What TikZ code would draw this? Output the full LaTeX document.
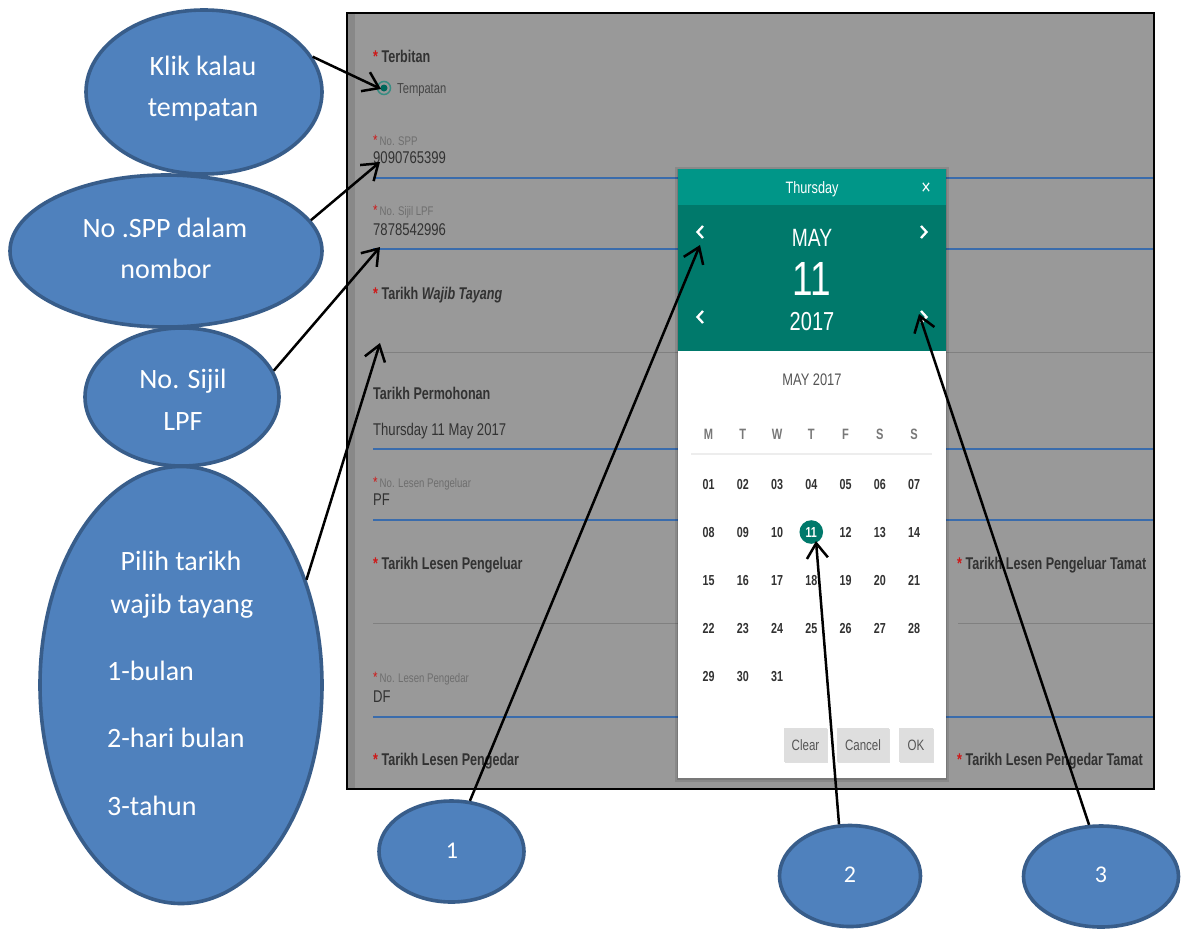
\documentclass[tikz,border=0pt]{standalone}
\usepackage{fontspec}
\setmainfont{Carlito}
\newfontfamily\ff[FakeStretch=0.77]{Liberation Sans}
\newfontfamily\ffb[FakeStretch=0.74,ItalicFont={Liberation Sans Bold Italic}]{Liberation Sans Bold}
\usetikzlibrary{shapes.geometric,arrows.meta,shadows}
\definecolor{bg}{RGB}{153,153,153}
\definecolor{strip}{RGB}{136,136,136}
\definecolor{txt}{RGB}{50,50,50}
\definecolor{lbl}{RGB}{110,110,110}
\definecolor{req}{RGB}{205,25,25}
\definecolor{fline}{RGB}{58,108,172}
\definecolor{gline}{RGB}{128,128,128}
\definecolor{tealL}{RGB}{0,150,136}
\definecolor{tealD}{RGB}{0,121,107}
\definecolor{radring}{RGB}{55,140,130}
\definecolor{blueF}{RGB}{79,129,189}
\definecolor{blueS}{RGB}{56,93,138}
\definecolor{btn}{RGB}{222,222,222}
\definecolor{wk}{RGB}{120,120,120}
\definecolor{mo}{RGB}{85,85,85}
\newcommand\fsz[1]{\fontsize{#1}{#1}\selectfont}
\newcommand\reqa{{\fsz{17}\textcolor{req}{*}}}
\newcommand\reqb{{\fsz{15}\textcolor{req}{*}}}
\begin{document}
\begin{tikzpicture}[x=1pt,y=-1pt,
  bubble/.style={ellipse, fill=blueF, draw=blueS, line width=3.6pt, inner sep=0pt},
  btxt/.style={text=white, font={\fsz{28}}, anchor=base, inner sep=0pt},
  btxtl/.style={text=white, font={\fsz{28}}, anchor=base west, inner sep=0pt},
  ntxt/.style={text=white, font={\fsz{24}}, anchor=base, inner sep=0pt},
  flbl/.style={anchor=base west, inner sep=0pt, text=txt, font={\ffb\fsz{17}}},
  fval/.style={anchor=base west, inner sep=0pt, text=txt, font={\ff\fsz{17}}},
  fsmall/.style={anchor=base west, inner sep=0pt, text=lbl, font={\ff\fsz{12.5}}},
  calt/.style={anchor=base, inner sep=0pt},
  wday/.style={anchor=base, inner sep=0pt, text=wk, font={\ffb\fsz{15}}},
  dday/.style={anchor=base, inner sep=0pt, font={\ffb\fsz{14.5}}},
  btnbox/.style={rectangle, fill=btn, inner sep=0pt, text=mo, font={\ff\fsz{15}},
     drop shadow={opacity=0.25, shadow xshift=0.6pt, shadow yshift=-1.4pt}},
  bline/.style={draw=fline, line width=1.6pt},
  gl/.style={draw=gline, line width=1pt},
  conn/.style={draw=black, line width=2.5pt, -{Straight Barb[length=15pt,width=21pt]}},
  chev/.style={draw=white, line width=2.3pt}
]
\useasboundingbox (0,0) rectangle (1181,930);
\fill[white] (0,0) rectangle (1181,930);

% ---------- screenshot background ----------
\fill[bg] (347,13) rectangle (1154,789);
\fill[strip] (348,14) rectangle (355,788);

% form lines
\draw[bline] (373,178) -- (1153,178);
\draw[bline] (373,249) -- (1153,249);
\draw[gl] (373,352) -- (1153,352);
\draw[bline] (373,449) -- (1153,449);
\draw[bline] (373,520) -- (1153,520);
\draw[gl] (373,623) -- (678,623);
\draw[gl] (958,623) -- (1153,623);
\draw[bline] (373,717) -- (1153,717);

% form texts
\node[flbl] (lTerbitan) at (373,62) {\reqa\hspace{3.5pt}Terbitan};
\node[circle, draw=radring, line width=1.5pt, minimum size=13pt, inner sep=0pt] (radio) at (384,88) {};
\node[circle, fill=tealD!85!black, minimum size=7pt, inner sep=0pt] (radiodot) at (384,88) {};
\node[anchor=base west, inner sep=0pt, text=txt!90!white, font={\ff\fsz{14.5}}] (lTempatan) at (397,93) {Tempatan};

\node[fsmall] (lSPP) at (373,145) {\reqb\hspace{2pt}No. SPP};
\node[fval] (vSPP) at (373,163) {9090765399};
\node[fsmall] (lSijil) at (373,215) {\reqb\hspace{2pt}No. Sijil LPF};
\node[fval] (vSijil) at (373,235) {7878542996};
\node[flbl] (lWajib) at (373,299) {\reqa\hspace{3.5pt}Tarikh \textit{Wajib Tayang}};
\node[flbl] (lPermohonan) at (373,399) {Tarikh Permohonan};
\node[fval] (vPermohonan) at (373,435) {Thursday 11 May 2017};
\node[fsmall] (lLesenPl) at (373,487) {\reqb\hspace{2pt}No. Lesen Pengeluar};
\node[fval] (vPF) at (373,505) {PF};
\node[flbl] (lTLPl) at (373,569) {\reqa\hspace{3.5pt}Tarikh Lesen Pengeluar};
\node[flbl] (lTLPlT) at (957,569) {\reqa\hspace{3.5pt}Tarikh Lesen Pengeluar Tamat};
\node[fsmall] (lLesenPd) at (373,682) {\reqb\hspace{2pt}No. Lesen Pengedar};
\node[fval] (vDF) at (373,702) {DF};
\node[flbl] (lTLPd) at (373,765) {\reqa\hspace{3.5pt}Tarikh Lesen Pengedar};
\node[flbl] (lTLPdT) at (957,765) {\reqa\hspace{3.5pt}Tarikh Lesen Pengedar Tamat};

% ---------- calendar ----------
\fill[black, opacity=0.10] (675,167) rectangle (949,782);
\fill[black, opacity=0.12] (677,169) rectangle (947,780);
\fill[tealL] (678,169) rectangle (946,205);
\fill[tealD] (678,205) rectangle (946,351);
\fill[white] (678,351) rectangle (946,778);

\node[calt, text=white, font={\ff\fsz{16.5}}] (cDay) at (812,193) {Thursday};
\node[calt, text=white, font={\ff\fsz{21}}] (cClose) at (926,194) {×};
\node[calt, text=white, font={\ff\fsz{25}}] (cMonth) at (812,246) {MAY};
\node[calt, text=white, font={\ff\fsz{48}}] (cDate) at (812,295) {11};
\node[calt, text=white, font={\ff\fsz{26}}] (cYear) at (812,330) {2017};
\draw[chev] (703,226) -- (697.5,232) -- (703,238);
\draw[chev] (921,226) -- (926.5,232) -- (921,238);
\draw[chev] (703,311) -- (697.5,317) -- (703,323);
\draw[chev] (921,311) -- (926.5,317) -- (921,323);

\node[calt, text=mo, font={\ff\fsz{16.7}}] (cMY) at (812,385) {MAY 2017};
\foreach \w [count=\i from 0] in {M,T,W,T,F,S,S}
  \node[wday] (wd\i) at ({708.5+34.25*\i},439) {\w};
\draw[black!7, line width=1.3pt] (691,454) -- (932,454);

\fill[tealD] (811.25,532) circle (11.8);
\foreach \d [count=\i from 0] in {01,02,03,04,05,06,07,08,09,10,11,12,13,14,15,16,17,18,19,20,21,22,23,24,25,26,27,28,29,30,31} {
  \pgfmathtruncatemacro\cc{mod(\i,7)}
  \pgfmathtruncatemacro\rr{div(\i,7)}
  \ifnum\i=10 \def\dcol{white}\else\def\dcol{txt}\fi
  \node[dday, text=\dcol] (d\d) at ({708.5+34.25*\cc},{489.2+48*\rr}) {\d};
}

\node[btnbox, minimum width=43pt, minimum height=34pt] (bClear) at (805.5,745) {Clear};
\node[btnbox, minimum width=52pt, minimum height=34pt] (bCancel) at (863,745) {Cancel};
\node[btnbox, minimum width=34pt, minimum height=34pt] (bOK) at (916,745) {OK};

% frame
\draw[black, line width=2pt] (347,13) rectangle (1154,789);

% ---------- bubbles ----------
\node[bubble, minimum width=236pt, minimum height=164pt] (e1) at (204,92) {};
\node[btxt] (e1a) at (203,75) {Klik kalau};
\node[btxt] (e1b) at (203,116) {tempatan};

\node[bubble, minimum width=312pt, minimum height=152pt] (e2) at (166,251) {};
\node[btxt] (e2a) at (165,237) {No .SPP dalam};
\node[btxt] (e2b) at (166,278) {nombor};

\node[bubble, minimum width=194pt, minimum height=138pt] (e3) at (182,397) {};
\node[btxt] (e3a) at (183,388) {No. Sijil};
\node[btxt] (e3b) at (183,430) {LPF};

\node[bubble, minimum width=282pt, minimum height=437pt] (e4) at (181,685) {};
\node[btxt] (e4a) at (181,570) {Pilih tarikh};
\node[btxt] (e4b) at (182,613) {wajib tayang};
\node[btxtl] (e4c) at (107,680) {1-bulan};
\node[btxtl] (e4d) at (107,747) {2-hari bulan};
\node[btxtl] (e4e) at (107,815) {3-tahun};

\node[bubble, minimum width=145pt, minimum height=101pt] (c1) at (451.5,851.5) {};
\node[ntxt] (c1t) at (452,858) {1};
\node[bubble, minimum width=141pt, minimum height=101pt] (c2) at (850,876) {};
\node[ntxt] (c2t) at (850,882) {2};
\node[bubble, minimum width=155pt, minimum height=101pt] (c3) at (1101,876.5) {};
\node[ntxt] (c3t) at (1101,882) {3};

% ---------- arrow targets ----------
\coordinate (t1) at (381,89);
\coordinate (t2) at (380,162);
\coordinate (t3) at (380,247);
\coordinate (t4) at (380,343);
\coordinate (t5) at (700,245);
\coordinate (t6) at (816,541);
\coordinate (t7) at (919,314);

\draw[conn] (e1.18) -- (t1);
\draw[conn] (e2.12) -- (t2);
\draw[conn] (e3.16) -- (t3);
\draw[conn] (e4.40) -- (t4);
\draw[conn] (c1.70) -- (t5);
\draw[conn] (c2.102) -- (t6);
\draw[conn] (c3.103) -- (t7);
\end{tikzpicture}
\end{document}
